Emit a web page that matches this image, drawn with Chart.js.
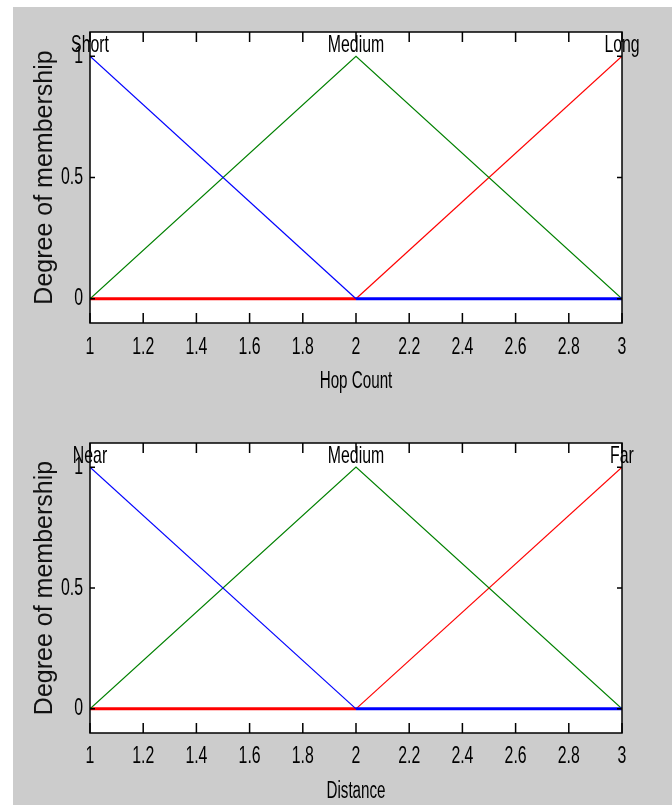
<!DOCTYPE html>
<html lang="en">
<head>
<meta charset="UTF-8" />
<title>Membership functions</title>
<script src="https://cdn.jsdelivr.net/npm/chart.js@4"></script>
<style>
  html, body { margin: 0; padding: 0; background: #fff; }
  body { width: 672px; height: 805px; position: relative; overflow: hidden; }
  #frame { position: absolute; left: 13px; top: 7px; right: 0; bottom: 0; background: #cccccc; }
  canvas { position: absolute; left: 0; }
  #hopChart { top: 0; }
  #distChart { top: 410px; }
</style>
</head>
<body>
<div id="frame"></div>
<canvas id="hopChart" width="672" height="400"></canvas>
<canvas id="distChart" width="672" height="395"></canvas>

<script>
// x positions of the membership function break points
const xValues = [1, 2, 3];

// hop count memberships
const hopShort = [1, 0, 0];
const hopMedium = [0, 1, 0];
const hopLong = [0, 0, 1];
const hopNames = ['Short', 'Medium', 'Long'];

// distance memberships
const distNear = [1, 0, 0];
const distMedium = [0, 1, 0];
const distFar = [0, 0, 1];
const distNames = ['Near', 'Medium', 'Far'];

// where each name sits (peak of the function)
const namePeaks = [1, 2, 3];

const xTickValues = [1, 1.2, 1.4, 1.6, 1.8, 2, 2.2, 2.4, 2.6, 2.8, 3];
const xTickLabels = ['1', '1.2', '1.4', '1.6', '1.8', '2', '2.2', '2.4', '2.6', '2.8', '3'];
const yTickValues = [0, 0.5, 1];
const yTickLabels = ['0', '0.5', '1'];

const sans = "'Liberation Sans', Arial, sans-serif";
const squeeze = 0.66; // horizontal text is tall and narrow in the original

// squeeze every horizontal text drawn on this canvas (rotated text left alone)
function narrowText(canvas) {
  const ctx = canvas.getContext('2d');
  const fill = ctx.fillText;
  ctx.fillText = function (text, x, y, maxWidth) {
    if (Math.abs(this.getTransform().b) > 1e-6) {
      return maxWidth === undefined ? fill.call(this, text, x, y) : fill.call(this, text, x, y, maxWidth);
    }
    this.save();
    this.translate(x, y);
    this.scale(squeeze, 1);
    if (maxWidth === undefined) fill.call(this, text, 0, 0);
    else fill.call(this, text, 0, 0, maxWidth / squeeze);
    this.restore();
  };
  return canvas;
}

// white plot area, box with inward ticks, and the function names
const matlabBox = {
  id: 'matlabBox',
  beforeDraw(chart) {
    const { ctx, chartArea: a } = chart;
    ctx.save();
    ctx.fillStyle = '#fff';
    ctx.fillRect(a.left, a.top, a.width, a.height);
    ctx.restore();
  },
  afterDraw(chart, args, opts) {
    const { ctx, chartArea: a, scales: { x, y } } = chart;
    ctx.save();
    ctx.strokeStyle = '#000';
    ctx.lineWidth = 1.5;
    ctx.strokeRect(a.left, a.top, a.width, a.height);
    ctx.beginPath();
    x.ticks.forEach(t => {
      const px = x.getPixelForValue(t.value);
      ctx.moveTo(px, a.bottom); ctx.lineTo(px, a.bottom - 10);
      ctx.moveTo(px, a.top); ctx.lineTo(px, a.top + 10);
    });
    y.ticks.forEach(t => {
      const py = y.getPixelForValue(t.value);
      ctx.moveTo(a.left, py); ctx.lineTo(a.left + 5, py);
      ctx.moveTo(a.right, py); ctx.lineTo(a.right - 5, py);
    });
    ctx.stroke();

    ctx.font = '24px ' + sans;
    ctx.fillStyle = '#000';
    ctx.textAlign = 'center';
    ctx.textBaseline = 'alphabetic';
    opts.names.forEach((n, i) => {
      ctx.fillText(n, x.getPixelForValue(namePeaks[i]), y.getPixelForValue(1) - 4);
    });
    ctx.restore();
  }
};

function points(ys) {
  return xValues.map((v, i) => ({ x: v, y: ys[i] }));
}

function mfDataset(ys, color) {
  return {
    data: points(ys),
    borderColor: color,
    borderWidth: 1.2,
    pointRadius: 0,
    tension: 0,
    segment: {
      borderWidth: c => (c.p0.parsed.y === 0 && c.p1.parsed.y === 0) ? 3 : 1.2
    }
  };
}

function makeChart(id, xTitle, series, names, padTop, axisHeight, tickPad, titlePad) {
  new Chart(narrowText(document.getElementById(id)), {
    type: 'line',
    data: {
      datasets: [
        mfDataset(series[0], '#0000ff'),
        mfDataset(series[1], '#008000'),
        mfDataset(series[2], '#ff0000')
      ]
    },
    options: {
      responsive: false,
      devicePixelRatio: 1,
      animation: false,
      events: [],
      layout: { padding: { top: padTop, right: 50, left: 0, bottom: 0 } },
      plugins: {
        legend: { display: false },
        tooltip: { enabled: false },
        matlabBox: { names: names }
      },
      scales: {
        x: {
          type: 'linear',
          min: 1,
          max: 3,
          grid: { display: false, drawTicks: false },
          border: { display: false },
          afterBuildTicks: s => { s.ticks = xTickValues.map(v => ({ value: v })); },
          afterFit: s => { s.height = axisHeight; },
          ticks: {
            autoSkip: false,
            maxRotation: 0,
            padding: tickPad,
            color: '#000',
            font: { family: sans, size: 24 },
            callback: (v, i) => xTickLabels[i]
          },
          title: {
            display: true,
            text: xTitle,
            color: '#000',
            font: { family: sans, size: 23 },
            padding: { top: 0, bottom: titlePad }
          }
        },
        y: {
          min: -0.1,
          max: 1.1,
          grid: { display: false, drawTicks: false },
          border: { display: false },
          afterBuildTicks: s => { s.ticks = yTickValues.map(v => ({ value: v })); },
          afterFit: s => { s.width = 90; },
          ticks: {
            padding: 7,
            color: '#000',
            font: { family: sans, size: 24 },
            callback: (v, i) => yTickLabels[i]
          },
          title: {
            display: true,
            text: 'Degree of membership',
            color: '#111',
            font: { family: sans, size: 25 },
            padding: { top: 30, bottom: 0 }
          }
        }
      }
    },
    plugins: [matlabBox]
  });
}

makeChart('hopChart', 'Hop Count', [hopShort, hopMedium, hopLong], hopNames, 32, 77, 10, 5);
makeChart('distChart', 'Distance', [distNear, distMedium, distFar], distNames, 33, 72, 9, 0);
</script>
</body>
</html>
